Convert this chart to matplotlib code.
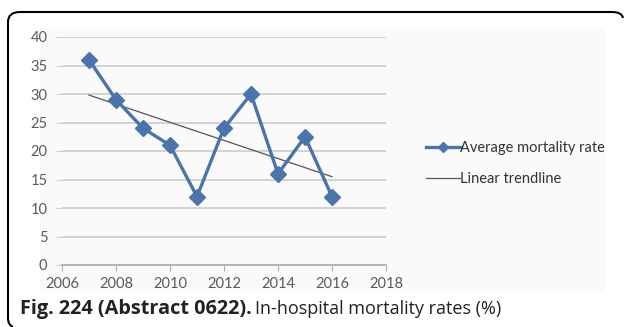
import matplotlib
matplotlib.use("Agg")
import matplotlib.pyplot as plt
import numpy as np
from matplotlib.path import Path
from matplotlib.patches import PathPatch, Rectangle

years = [2007, 2008, 2009, 2010, 2011, 2012, 2013, 2014, 2015, 2016]
mortality = [36, 29, 24, 21, 12, 24, 30, 16, 22.5, 12]
xticks = [2006, 2008, 2010, 2012, 2014, 2016, 2018]
yticks = [0, 5, 10, 15, 20, 25, 30, 35, 40]

W, H = 627, 327
fig = plt.figure(figsize=(W/100, H/100), dpi=100)
fig.patch.set_facecolor("white")

def P(x, y):
    return (x / W, 1 - y / H)

# faint chart-area background
fig.patches.append(Rectangle(P(40, 292), 565/W, 264/H, transform=fig.transFigure,
                             facecolor="#fafafa", edgecolor="none", zorder=-10))

# rounded frame: left side + top, corners curved
verts = [P(13, 327), P(8, 325), P(8, 318),
         P(8, 22), P(8, 12), P(20, 12),
         P(612, 12), P(622, 12), P(623, 18)]
codes = [Path.MOVETO, Path.CURVE3, Path.CURVE3,
         Path.LINETO, Path.CURVE3, Path.CURVE3,
         Path.LINETO, Path.CURVE3, Path.CURVE3]
fig.patches.append(PathPatch(Path(verts, codes), transform=fig.transFigure,
                             fill=False, edgecolor="black", linewidth=1.5, zorder=-5))

ax = fig.add_axes([62/W, 1-265/H, (386-62)/W, (265-37)/H])
ax.patch.set_alpha(0)
ax.plot(years, mortality, color="#4a74aa", lw=2.4, marker="D", ms=8,
        mec="#4a74aa", mfc="#4a74aa", label="Average mortality rate", zorder=3)
coef = np.polyfit(years, mortality, 1)
tx = np.array([years[0], years[-1]])
ax.plot(tx, np.polyval(coef, tx), color="#555555", lw=0.9,
        label="Linear trendline", zorder=2)

ax.set_xlim(2006, 2018)
ax.set_ylim(0, 40)
ax.set_xticks(xticks)
ax.set_yticks(yticks)
ax.grid(axis="y", color="#cfcfcf", lw=1.3)
ax.set_axisbelow(True)
for s in ["top", "right", "left"]:
    ax.spines[s].set_visible(False)
ax.spines["bottom"].set_color("#b0b0b0")
ax.spines["bottom"].set_linewidth(1.3)
ax.tick_params(axis="x", length=4, color="#b0b0b0", labelsize=10.5, labelcolor="#5a5a5a", pad=5)
ax.tick_params(axis="y", length=4, color="#cfcfcf", labelsize=10.5, labelcolor="#5a5a5a", pad=6.5)
for lab in ax.get_xticklabels() + ax.get_yticklabels():
    lab.set_family("Lato")

h, l = ax.get_legend_handles_labels()
leg = fig.legend(h, l, loc="upper left", bbox_to_anchor=P(426, 141), frameon=False,
                 prop={"family": "Lato", "size": 10.5}, handlelength=2.3,
                 handletextpad=0.0, labelspacing=1.15, labelcolor="#333333",
                 borderpad=0, borderaxespad=0, markerscale=0.6)

fig.text(20/W, 1-309/H, "Fig. 224 (Abstract 0622).", fontsize=14.3, fontweight="bold",
         family="Open Sans", va="center", ha="left", color="#222222")
fig.text(255/W, 1-309/H, "In-hospital mortality rates (%)", fontsize=13.0,
         family="Open Sans", va="center", ha="left", color="#222222")

fig.savefig("out.png", dpi=100)
